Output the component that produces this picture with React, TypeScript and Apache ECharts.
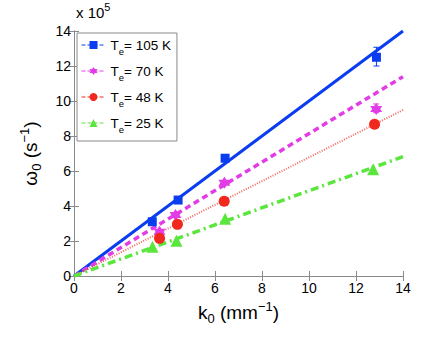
import React, { useEffect, useRef } from "react";
import * as echarts from "echarts";

// data in units of 1e5 s^-1, k in mm^-1
const k105 = [3.33, 4.43, 6.43, 12.87];
const w105 = [3.1, 4.34, 6.73, 12.5];
const k70 = [3.64, 4.32, 6.4, 12.86];
const w70 = [2.53, 3.49, 5.33, 9.55];
const k48 = [3.64, 4.4, 6.39, 12.79];
const w48 = [2.15, 2.95, 4.27, 8.67];
const k25 = [3.34, 4.36, 6.43, 12.73];
const w25 = [1.67, 2.02, 3.27, 6.1];

// linear fits through origin
const fitK = [0, 14];
const fit105 = [0, 14];
const fit70 = [0, 11.39];
const fit48 = [0, 9.49];
const fit25 = [0, 6.82];

// error bars [k, low, high]
const errK = [12.87, 12.86];
const errLow = [12.0, 9.33];
const errHigh = [13.07, 9.83];
const errColor = ["#0a3cf0", "#e23ce6"];

const names = ["Te105", "Te70", "Te48", "Te25"];
const labels = ["105", "70", "48", "25"];
const colors = ["#0a3cf0", "#e23ce6", "#f0281e", "#5ae63c"];

const xTicks = [0, 14, 2];
const yTicks = [0, 14, 2];

const hexagram =
  "path://M0,-10 L2.9,-5 L8.66,-5 L5.8,0 L8.66,5 L2.9,5 L0,10 L-2.9,5 L-8.66,5 L-5.8,0 L-8.66,-5 L-2.9,-5 Z";

const FONT = "Liberation Sans";

export default function App() {
  const ref = useRef<HTMLDivElement>(null);
  useEffect(() => {
    if (!ref.current) return;
    const chart = echarts.init(ref.current, null, { renderer: "svg" });
    const zip = (a: number[], b: number[]) => a.map((v, i) => [v, b[i]]);
    const dataSets = [zip(k105, w105), zip(k70, w70), zip(k48, w48), zip(k25, w25)];
    const fits = [fit105, fit70, fit48, fit25];
    const symbols = ["rect", hexagram, "circle", "triangle"];
    const symSizes = [9, 12, 11, 12];
    const fitStyles: any[] = [
      { width: 3, type: "solid" },
      { width: 3.5, type: [6, 4] },
      { width: 2, type: [1, 1.5], opacity: 0.7 },
      { width: 3.5, type: [8, 4, 2, 4] },
    ];
    const axisCommon = {
      min: 0,
      max: 14,
      interval: 2,
      axisLine: { show: true, lineStyle: { color: "#8a8a8a", width: 1 } },
      axisTick: { show: true, inside: true, length: 5, lineStyle: { color: "#8a8a8a" } },
      splitLine: { show: false },
    };
    const series: any[] = [];
    fits.forEach((f, i) => {
      series.push({
        type: "line",
        name: "fit" + i,
        data: zip(fitK, f),
        symbol: "none",
        lineStyle: { color: colors[i], ...fitStyles[i] },
        z: 2,
        silent: true,
      });
    });
    series.push({
      type: "custom",
      name: "err",
      data: errK.map((k, i) => [k, errLow[i], errHigh[i], i]),
      renderItem: (params: any, api: any) => {
        const x = api.value(0);
        const lo = api.coord([x, api.value(1)]);
        const hi = api.coord([x, api.value(2)]);
        const c = errColor[api.value(3)];
        const w = 3;
        return {
          type: "group",
          children: [
            { type: "line", shape: { x1: lo[0], y1: lo[1], x2: hi[0], y2: hi[1] }, style: { stroke: c, lineWidth: 1 } },
            { type: "line", shape: { x1: lo[0] - w, y1: lo[1], x2: lo[0] + w, y2: lo[1] }, style: { stroke: c, lineWidth: 1 } },
            { type: "line", shape: { x1: hi[0] - w, y1: hi[1], x2: hi[0] + w, y2: hi[1] }, style: { stroke: c, lineWidth: 1 } },
          ],
        };
      },
      z: 3,
    });
    dataSets.forEach((d, i) => {
      series.push({
        type: "line",
        name: names[i],
        data: d,
        symbol: symbols[i],
        symbolSize: symSizes[i],
        itemStyle: { color: colors[i] },
        lineStyle: { color: colors[i], opacity: 0, width: 1, type: "dashed" },
        z: 4,
      });
    });

    const nameRich = {
      sub: { fontSize: 13, padding: [12, 0, 0, 0], fontFamily: FONT, color: "#000" },
      sup: { fontSize: 13, padding: [0, 0, 12, 0], fontFamily: FONT, color: "#000" },
    };

    chart.setOption({
      animation: false,
      textStyle: { fontFamily: FONT },
      grid: { left: 74, right: 40, top: 31, bottom: 67 },
      xAxis: [
        {
          type: "value",
          ...axisCommon,
          min: xTicks[0],
          max: xTicks[1],
          interval: xTicks[2],
          position: "bottom",
          axisLabel: { color: "#000", fontSize: 14, margin: 5, fontFamily: FONT },
          name: "k{sub|0} (mm{sup|−1})",
          nameLocation: "middle",
          nameGap: 21,
          nameTextStyle: { color: "#000", fontSize: 19, fontFamily: FONT, rich: nameRich },
        },
        {
          type: "value",
          ...axisCommon,
          position: "top",
          axisLabel: { show: false },
        },
      ],
      yAxis: [
        {
          type: "value",
          ...axisCommon,
          min: yTicks[0],
          max: yTicks[1],
          interval: yTicks[2],
          position: "left",
          axisLabel: { color: "#000", fontSize: 14, margin: 3, fontFamily: FONT },
          name: "ω{sub|0} (s{sup|−1})",
          nameLocation: "middle",
          nameRotate: 90,
          nameGap: 31,
          nameTextStyle: { color: "#000", fontSize: 19, fontFamily: FONT, rich: nameRich },
        },
        {
          type: "value",
          ...axisCommon,
          position: "right",
          axisLabel: { show: false },
        },
      ],
      legend: {
        data: names,
        orient: "vertical",
        left: 77,
        top: 33,
        padding: [5, 6, 7, 4],
        itemGap: 8,
        itemWidth: 24,
        itemHeight: 10,
        backgroundColor: "#fff",
        borderColor: "#8a8a8a",
        borderWidth: 1,
        borderRadius: 0,
        lineStyle: { opacity: 1, width: 1, type: "dashed" },
        formatter: (n: string) => `T{sub|e}= ${labels[names.indexOf(n)]} K`,
        textStyle: {
          color: "#000",
          fontSize: 13.5,
          fontFamily: FONT,
          rich: {
            sub: { fontSize: 9.5, padding: [12, 0, 0, 0], fontFamily: FONT, color: "#000" },
          },
        },
      },
      graphic: [
        {
          type: "text",
          left: 76,
          top: 1,
          style: {
            text: "x 10{sup|5}",
            fontSize: 15,
            fontFamily: FONT,
            fill: "#000",
            rich: { sup: { fontSize: 11, padding: [0, 0, 12, 0], fontFamily: FONT, fill: "#000" } },
          },
        },
      ],
      series,
    });
    return () => chart.dispose();
  }, []);
  return <div ref={ref} style={{ position: "absolute", left: 0, top: 0, width: 443, height: 343, background: "#fff" }} />;
}
